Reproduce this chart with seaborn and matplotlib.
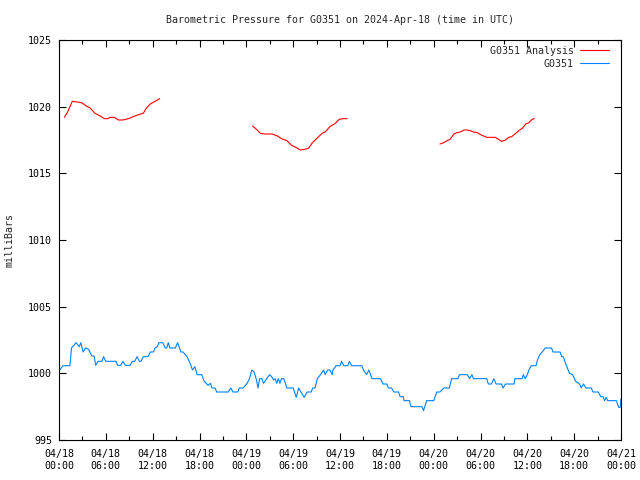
import pandas as pd
import matplotlib
matplotlib.use("Agg")
import matplotlib.pyplot as plt
import matplotlib.dates as mdates
from matplotlib.lines import Line2D
import seaborn as sns

# Время в часах от 2024-04-18 00:00 UTC
start = pd.Timestamp("2024-04-18 00:00")

obs_hours = [0.1, 0.5, 1.4, 1.6, 2.2, 2.6, 2.8, 3.1, 3.4, 3.8, 4.2, 4.5, 4.7, 5.0, 5.5, 5.7,
             6.0, 7.3, 7.5, 7.9, 8.2, 8.5, 9.1, 9.4, 9.7, 10.0, 10.3, 10.5, 10.8, 11.4, 11.7,
             12.1, 12.3, 12.6, 12.8, 13.3, 13.6, 13.8, 14.0, 14.2, 14.9, 15.2, 15.6, 15.9,
             16.4, 16.8, 17.1, 17.4, 17.7, 18.3, 18.6, 19.1, 19.4, 19.6, 20.0, 20.2, 21.7,
             22.0, 22.3, 22.9, 23.1, 23.6, 24.1, 24.4, 24.7, 25.0, 25.3, 25.5, 25.7, 26.0,
             26.2, 26.6, 27.0, 27.3, 27.5, 27.7, 27.9, 28.1, 28.3, 28.5, 28.8, 29.2, 30.0,
             30.4, 30.7, 31.0, 31.4, 31.8, 32.3, 32.5, 32.8, 33.1, 33.5, 33.9, 34.1, 34.4,
             34.7, 35.0, 35.1, 35.5, 36.0, 36.2, 36.5, 37.0, 37.2, 37.5, 38.8, 39.0, 39.4,
             39.7, 40.1, 41.2, 41.5, 42.0, 42.2, 42.6, 42.9, 43.5, 43.7, 44.1, 44.2, 44.9,
             45.1, 46.5, 46.7, 47.1, 48.0, 48.4, 48.8, 49.3, 50.0, 50.3, 51.1, 51.3, 52.3,
             52.6, 52.9, 53.1, 54.8, 55.0, 55.4, 55.7, 56.0, 56.7, 56.9, 57.2, 58.3, 58.4,
             59.3, 59.5, 59.7, 60.0, 60.2, 60.5, 61.1, 61.3, 61.6, 61.9, 62.3, 63.1, 63.3,
             64.2, 64.4, 64.6, 64.9, 65.4, 65.8, 66.2, 66.7, 66.9, 67.2, 67.5, 68.2, 68.4,
             69.1, 69.4, 69.7, 69.9, 70.1, 70.3, 71.4, 71.7, 71.9, 72.0]
obs_values = [1000.25, 1000.57, 1000.57, 1001.9, 1002.3, 1002.0, 1002.3, 1001.6, 1001.9, 1001.8,
              1001.3, 1001.3, 1000.6, 1000.9, 1000.9, 1001.25,
              1000.9, 1000.9, 1000.6, 1000.6, 1000.9, 1000.6, 1000.6, 1000.9, 1000.9, 1001.25,
              1000.9, 1000.9, 1001.25, 1001.25, 1001.6,
              1001.6, 1001.9, 1002.0, 1002.3, 1002.3, 1001.9, 1001.9, 1002.3, 1001.9, 1001.9,
              1002.3, 1001.6, 1001.6,
              1001.25, 1000.75, 1000.25, 1000.5, 999.9, 999.9, 999.4, 999.1, 999.25, 998.9,
              998.9, 998.6, 998.6,
              998.9, 998.6, 998.6, 998.9, 998.9, 999.25, 999.6, 1000.25, 1000.1, 999.5, 998.9,
              999.6, 999.6,
              999.25, 999.6, 999.9, 999.7, 999.5, 999.6, 999.25, 999.6, 999.25, 999.6, 999.6,
              998.9, 998.9,
              998.2, 998.9, 998.6, 998.2, 998.6, 998.6, 998.9, 998.9, 999.6, 999.9, 1000.25,
              999.9, 1000.25,
              1000.25, 999.9, 1000.25, 1000.57, 1000.57, 1000.9, 1000.57, 1000.57, 1000.9,
              1000.57, 1000.57, 1000.25, 999.9,
              1000.25, 999.6, 999.6, 999.2, 999.2, 998.9, 998.9, 998.6, 998.6, 998.25, 998.25,
              997.95, 997.95,
              997.5, 997.5, 997.2, 997.95, 997.95, 998.6, 998.6, 998.9, 998.9, 999.6, 999.6,
              999.9, 999.9,
              999.6, 999.9, 999.6, 999.6, 999.2, 999.2, 999.6, 999.2, 999.2, 998.9, 999.2,
              999.2, 999.6,
              999.6, 999.9, 999.6, 999.9, 1000.25, 1000.57, 1000.57, 1001.0, 1001.4, 1001.6,
              1001.9, 1001.9, 1001.6,
              1001.6, 1001.25, 1001.25, 1000.75, 1000.0, 999.9, 999.4, 999.2, 998.9, 999.2,
              998.9, 998.9, 998.6,
              998.6, 998.25, 998.25, 997.95, 998.2, 997.95, 997.95, 997.45, 997.45, 998.1]

# Анализ: три отдельных отрезка
an1_hours = [0.7, 1.1, 1.7, 2.3, 2.9, 3.5, 4.0, 4.6, 5.3, 5.8, 6.3, 6.5, 7.1, 7.6, 8.2, 8.9,
             9.5, 10.2, 10.8, 11.2, 11.7, 12.3, 12.9]
an1_values = [1019.2, 1019.6, 1020.4, 1020.35, 1020.3, 1020.05, 1019.9, 1019.5, 1019.3, 1019.1,
              1019.1, 1019.2, 1019.2, 1019.0, 1019.0, 1019.1, 1019.25, 1019.4, 1019.5, 1019.9,
              1020.2, 1020.4, 1020.6]
an2_hours = [24.8, 25.3, 25.8, 26.4, 27.3, 28.0, 28.5, 29.2, 29.8, 30.5, 30.9, 31.5, 32.0, 32.4,
             33.0, 33.7, 34.1, 34.7, 35.4, 35.9, 36.4, 36.9]
an2_values = [1018.55, 1018.3, 1018.0, 1017.95, 1017.95, 1017.8, 1017.6, 1017.45, 1017.1,
              1016.9, 1016.75, 1016.8, 1016.9, 1017.25, 1017.6, 1018.0, 1018.1, 1018.5, 1018.75,
              1019.05, 1019.1, 1019.1]
an3_hours = [48.8, 49.3, 49.7, 50.1, 50.6, 51.0, 51.4, 51.9, 52.3, 52.7, 53.1, 53.6, 54.0, 54.4,
             54.8, 55.3, 55.9, 56.3, 56.7, 57.2, 57.6, 58.0, 58.5, 58.9, 59.4, 59.8, 60.2, 60.6,
             60.9]
an3_values = [1017.2, 1017.3, 1017.45, 1017.55, 1017.95, 1018.05, 1018.1, 1018.25, 1018.25,
              1018.2, 1018.1, 1018.05, 1017.9, 1017.8, 1017.7, 1017.7, 1017.7, 1017.55, 1017.4,
              1017.5, 1017.7, 1017.75, 1018.0, 1018.2, 1018.4, 1018.7, 1018.8, 1019.05, 1019.1]

labels = ["G0351 Analysis", "G0351"]
colors = ["#ff0000", "#0080ff"]

obs_df = pd.DataFrame({"time": start + pd.to_timedelta(obs_hours, unit="h"),
                       "pressure": obs_values})
parts = []
for seg, (h, v) in enumerate([(an1_hours, an1_values), (an2_hours, an2_values),
                              (an3_hours, an3_values)]):
    parts.append(pd.DataFrame({"time": start + pd.to_timedelta(h, unit="h"),
                               "pressure": v, "seg": seg}))
an_df = pd.concat(parts, ignore_index=True)

sns.set_style("ticks")
plt.rcParams["font.family"] = ["DejaVu Sans Mono"]
plt.rcParams["font.size"] = 7.2

fig = plt.figure(figsize=(6.4, 4.8), dpi=100)
ax = fig.add_axes([59 / 640, 40 / 480, 562 / 640, 400 / 480])

sns.lineplot(data=an_df, x="time", y="pressure", units="seg", estimator=None,
             color=colors[0], linewidth=0.8, ax=ax)
sns.lineplot(data=obs_df, x="time", y="pressure", color=colors[1], linewidth=0.8, ax=ax)

ax.set_xlim(start, start + pd.Timedelta(hours=72))
ax.set_ylim(995, 1025)
ax.set_yticks(range(995, 1026, 5))
ax.xaxis.set_major_locator(mdates.HourLocator(byhour=[0, 6, 12, 18]))
ax.xaxis.set_minor_locator(mdates.HourLocator(byhour=range(0, 24, 3)))
ax.xaxis.set_major_formatter(mdates.DateFormatter("%m/%d\n%H:%M"))
ax.tick_params(which="both", direction="in", top=True, right=True, width=0.8,
               colors="black", labelsize=7.2)
ax.tick_params(which="major", length=5, pad=5)
ax.tick_params(axis="x", which="major", pad=6.5)
ax.tick_params(which="minor", length=3)
for s in ax.spines.values():
    s.set_linewidth(0.8)
    s.set_color("black")
ax.set_xlabel("")
ax.set_ylabel("")

ax.set_title("Barometric Pressure for G0351 on 2024-Apr-18 (time in UTC)",
             fontsize=7.2, pad=12)
fig.text(10 / 640, 0.5, "milliBars", rotation=90, ha="center", va="center", fontsize=7.2)

handles = [Line2D([], [], color=c, linewidth=0.8) for c in colors]
ax.legend(handles, labels, loc="upper right", bbox_to_anchor=(0.9822, 0.99),
          frameon=False, markerfirst=False,
          handlelength=2.9, handletextpad=0.6, labelspacing=0.3,
          borderaxespad=0.0, borderpad=0.2, fontsize=7.2)

fig.savefig("out.png", dpi=100, facecolor="white")
